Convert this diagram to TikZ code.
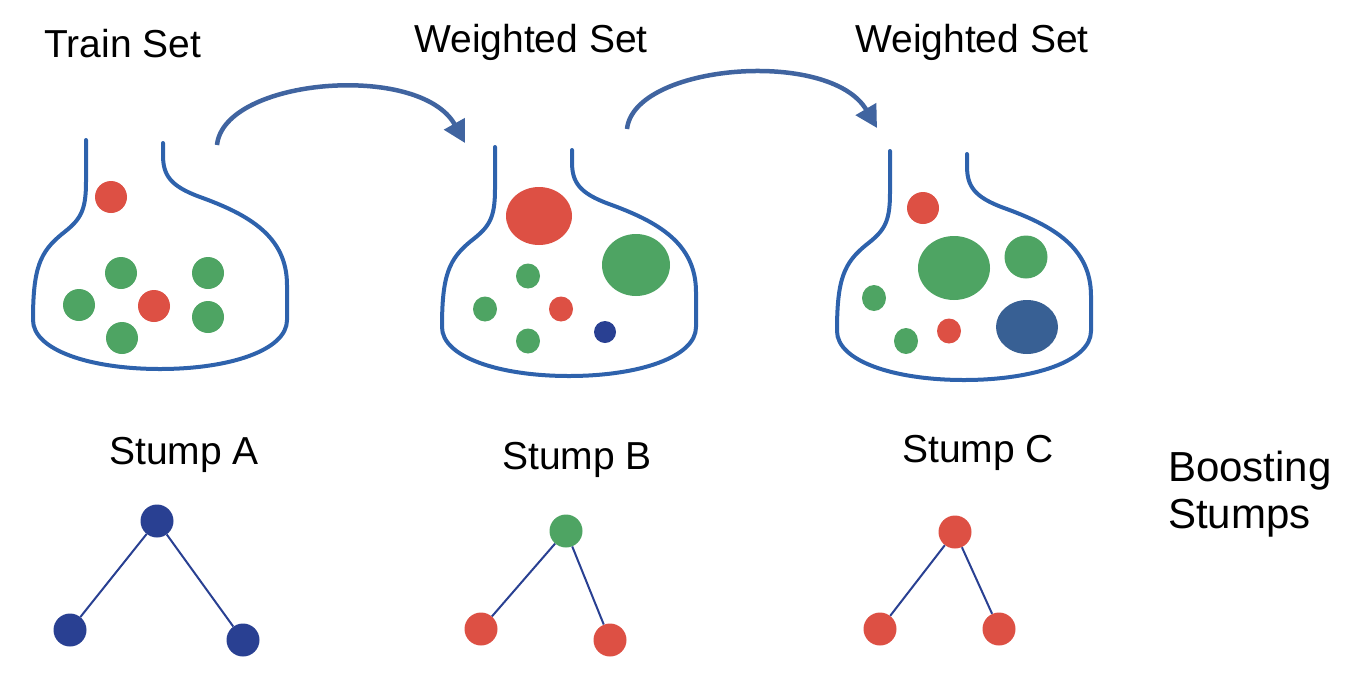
\documentclass[tikz,border=0pt]{standalone}
\usepackage{fontspec}
\setmainfont{Liberation Sans}
\usetikzlibrary{positioning}
\usetikzlibrary{arrows.meta}
\usetikzlibrary{shapes.geometric}

\definecolor{flaskblue}{RGB}{46,98,172}
\definecolor{arrowblue}{RGB}{64,100,160}
\definecolor{dotred}{RGB}{221,80,68}
\definecolor{dotgreen}{RGB}{78,164,99}
\definecolor{dotnavy}{RGB}{41,64,146}
\definecolor{blobnavy}{RGB}{56,96,148}

\tikzset{
	caption/.style={font=\fontsize{39}{47}\selectfont, anchor=base, inner sep=0pt},
	flask/.style={draw=flaskblue, line width=4pt, line cap=round},
	bendarrow/.style={draw=arrowblue, line width=4.5pt, -{Triangle[length=22pt,width=23pt]}},
	blob/.style={ellipse, fill=#1, inner sep=0pt},
	ball/.style={circle, fill=#1, inner sep=0pt, minimum size=33pt},
	branch/.style={draw=dotnavy, line width=2pt}
}

\begin{document}
\begin{tikzpicture}[x=1pt, y=-1pt]
		\useasboundingbox (0,0) rectangle (1370,678);

		% headings
		\node [caption] at (123,57) (train) {Train Set};
		\node [caption] at (531,52) (weighted1) {Weighted Set};
		\node [caption] at (972,52) (weighted2) {Weighted Set};

		% the three flasks
		\foreach \fx/\fy in {0/0, 409/7, 804/11} {
			\begin{scope}[shift={(\fx,\fy)}]
				\draw [flask] (86,140) -- (86,182) .. controls (86,212) and (80,220) .. (62,234)
					.. controls (40,252) and (33,268) .. (33,320)
					.. controls (33,350) and (90,369) .. (160,369)
					.. controls (230,369) and (287,350) .. (287,320) -- (287,285)
					.. controls (287,237) and (250,215) .. (200,197)
					.. controls (170,186) and (163,175) .. (163,155) -- (163,143);
			\end{scope}
		}

		% train set
		\node [blob=dotred, minimum width=32pt, minimum height=32pt] at (111,197) (t1) {};
		\node [blob=dotgreen, minimum width=32pt, minimum height=32pt] at (121,273) (t2) {};
		\node [blob=dotgreen, minimum width=32pt, minimum height=32pt] at (79,305) (t3) {};
		\node [blob=dotred, minimum width=32pt, minimum height=32pt] at (154,306) (t4) {};
		\node [blob=dotgreen, minimum width=32pt, minimum height=32pt] at (122,338) (t5) {};
		\node [blob=dotgreen, minimum width=32pt, minimum height=32pt] at (208,273) (t6) {};
		\node [blob=dotgreen, minimum width=32pt, minimum height=32pt] at (208,317) (t7) {};

		% first weighted set
		\node [blob=dotred, minimum width=66pt, minimum height=58pt] at (539,216) (w1) {};
		\node [blob=dotgreen, minimum width=68pt, minimum height=62pt] at (636,265) (w2) {};
		\node [blob=dotgreen, minimum width=24pt, minimum height=25pt] at (528,276) (w3) {};
		\node [blob=dotgreen, minimum width=24pt, minimum height=25pt] at (485,309) (w4) {};
		\node [blob=dotred, minimum width=24pt, minimum height=25pt] at (561,309) (w5) {};
		\node [blob=dotnavy, minimum width=22pt, minimum height=22pt] at (605,332) (w6) {};
		\node [blob=dotgreen, minimum width=24pt, minimum height=25pt] at (528,341) (w7) {};

		% second weighted set
		\node [blob=dotred, minimum width=32pt, minimum height=32pt] at (923,208) (v1) {};
		\node [blob=dotgreen, minimum width=72pt, minimum height=64pt] at (954,268) (v2) {};
		\node [blob=dotgreen, minimum width=43pt, minimum height=43pt] at (1026,257) (v3) {};
		\node [blob=dotgreen, minimum width=24pt, minimum height=26pt] at (874,298) (v4) {};
		\node [blob=dotgreen, minimum width=24pt, minimum height=26pt] at (906,341) (v5) {};
		\node [blob=dotred, minimum width=24pt, minimum height=25pt] at (949,331) (v6) {};
		\node [blob=blobnavy, minimum width=62pt, minimum height=54pt] at (1027,327) (v7) {};

		% reweighting arrows
		\coordinate (a1s) at (217,145);
		\coordinate (a1e) at (465,143);
		\coordinate (a2s) at (627,129);
		\coordinate (a2e) at (877,128);
		\draw [bendarrow] (a1s) .. controls (224,78) and (420,62) .. (a1e);
		\draw [bendarrow] (a2s) .. controls (634,64) and (830,48) .. (a2e);

		% stumps
		\node [caption] at (184,464) (stumpa) {Stump A};
		\node [caption] at (577,469) (stumpb) {Stump B};
		\node [caption] at (978,462) (stumpc) {Stump C};
		\node [caption, font=\fontsize{42}{47}\selectfont, anchor=base west, align=left] at (1168,528) (boost) {Boosting\\Stumps};

		\node [ball=dotnavy] at (157,521) (atop) {};
		\node [ball=dotnavy] at (70,630) (aleft) {};
		\node [ball=dotnavy] at (243,640) (aright) {};
		\draw [branch] (atop) -- (aleft);
		\draw [branch] (atop) -- (aright);

		\node [ball=dotgreen] at (566,531) (btop) {};
		\node [ball=dotred] at (481,629) (bleft) {};
		\node [ball=dotred] at (610,640) (bright) {};
		\draw [branch] (btop) -- (bleft);
		\draw [branch] (btop) -- (bright);

		\node [ball=dotred] at (955,532) (ctop) {};
		\node [ball=dotred] at (880,629) (cleft) {};
		\node [ball=dotred] at (999,629) (cright) {};
		\draw [branch] (ctop) -- (cleft);
		\draw [branch] (ctop) -- (cright);
\end{tikzpicture}
\end{document}
